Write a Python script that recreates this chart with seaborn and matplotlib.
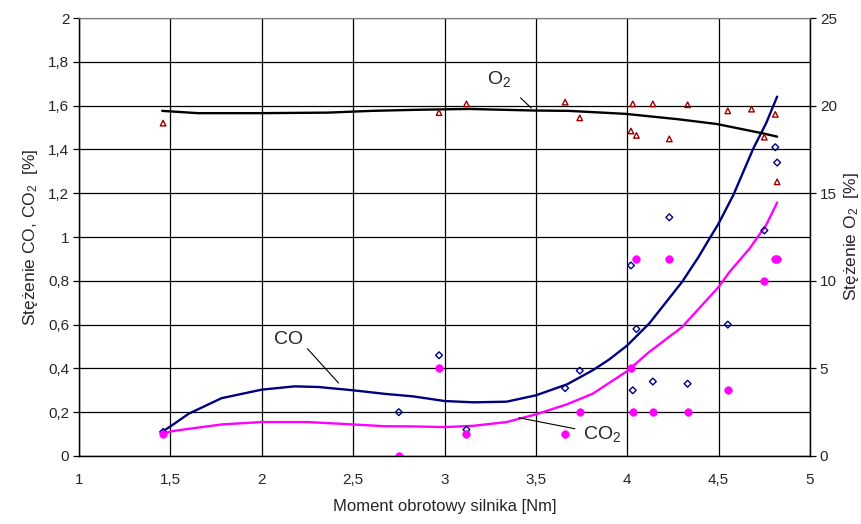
import numpy as np
import pandas as pd
import seaborn as sns
import matplotlib
matplotlib.use('Agg')
import matplotlib.pyplot as plt
from matplotlib.ticker import FuncFormatter, MultipleLocator

co_x = [1.46, 2.75, 2.97, 3.12, 3.66, 3.74, 4.02, 4.03, 4.05, 4.14, 4.23, 4.33, 4.55, 4.75, 4.81, 4.82]
co_y = [0.11, 0.20, 0.46, 0.12, 0.31, 0.39, 0.87, 0.30, 0.58, 0.34, 1.09, 0.33, 0.60, 1.03, 1.41, 1.34]

co2_x = [1.46, 2.75, 2.97, 3.12, 3.66, 3.74, 4.02, 4.03, 4.05, 4.14, 4.23, 4.33, 4.55, 4.75, 4.81, 4.82]
co2_y = [0.10, 0.00, 0.40, 0.10, 0.10, 0.20, 0.40, 0.20, 0.90, 0.20, 0.90, 0.20, 0.30, 0.80, 0.90, 0.90]

o2_x = [1.46, 2.97, 3.12, 3.66, 3.74, 4.02, 4.03, 4.05, 4.14, 4.23, 4.33, 4.55, 4.68, 4.75, 4.81, 4.82]
o2_y = [19.0, 19.6, 20.1, 20.2, 19.3, 18.55, 20.1, 18.3, 20.1, 18.1, 20.05, 19.7, 19.8, 18.2, 19.5, 15.65]

# trend lines
co_trend_x = [1.455, 1.50, 1.60, 1.78, 2.0, 2.18, 2.31, 2.50, 2.67, 2.83, 3.0, 3.16, 3.34, 3.50,
              3.67, 3.81, 3.90, 4.00, 4.12, 4.30, 4.39, 4.45, 4.50, 4.58, 4.69, 4.76, 4.82]
co_trend_y = [0.111, 0.135, 0.193, 0.264, 0.303, 0.318, 0.315, 0.300, 0.284, 0.272, 0.251, 0.245, 0.248, 0.277,
              0.327, 0.391, 0.440, 0.505, 0.605, 0.795, 0.909, 0.993, 1.062, 1.191, 1.405, 1.520, 1.641]

co2_trend_x = [1.455, 1.50, 1.60, 1.78, 2.0, 2.25, 2.50, 2.67, 2.83, 3.0, 3.16, 3.34, 3.50,
               3.67, 3.81, 3.90, 4.00, 4.12, 4.30, 4.50, 4.56, 4.67, 4.76, 4.82]
co2_trend_y = [0.098, 0.112, 0.124, 0.144, 0.155, 0.155, 0.144, 0.136, 0.135, 0.132, 0.138, 0.155, 0.190,
               0.236, 0.284, 0.333, 0.388, 0.475, 0.589, 0.772, 0.841, 0.948, 1.055, 1.157]

o2_trend_x = [1.455, 1.65, 2.0, 2.36, 2.6, 2.84, 3.13, 3.49, 3.68, 3.99, 4.28, 4.49, 4.74, 4.82]
o2_trend_y = [19.7, 19.57, 19.57, 19.6, 19.7, 19.76, 19.81, 19.72, 19.7, 19.53, 19.22, 18.95, 18.42, 18.23]

x_label = 'Moment obrotowy silnika [Nm]'
y_label_left = 'Stężenie CO, CO$_2$  [%]'
y_label_right = 'Stężenie O$_2$  [%]'

sns.set_style('white')
plt.rcParams['font.family'] = ['Liberation Sans', 'DejaVu Sans']
plt.rcParams['mathtext.default'] = 'regular'

fig = plt.figure(figsize=(8.61, 5.24), dpi=100)
ax = fig.add_axes([0.0918, 0.1298, 0.849, 0.8358])
ax2 = ax.twinx()

sns.lineplot(x=co_trend_x, y=co_trend_y, ax=ax, color='#000080', lw=1.7, sort=False, estimator=None)
sns.lineplot(x=co2_trend_x, y=co2_trend_y, ax=ax, color='#ff00ff', lw=1.7, sort=False, estimator=None)
sns.lineplot(x=o2_trend_x, y=o2_trend_y, ax=ax2, color='black', lw=1.7, sort=False, estimator=None)

sns.scatterplot(x=co_x, y=co_y, ax=ax, marker='D', s=12,
                facecolor='none', edgecolor='#000080', linewidth=1.0, zorder=4)
sns.scatterplot(x=co2_x, y=co2_y, ax=ax, marker='o', s=30,
                color='#ff00ff', edgecolor='#ff00ff', zorder=4)
sns.scatterplot(x=o2_x, y=o2_y, ax=ax2, marker='^', s=16,
                facecolor='none', edgecolor='#990000', linewidth=1.0, zorder=4)

ax.set_xlim(1, 5)
ax.set_ylim(0, 2)
ax2.set_ylim(0, 25)

comma = FuncFormatter(lambda v, p: f'{v:g}'.replace('.', ','))
ax.xaxis.set_major_locator(MultipleLocator(0.5))
ax.yaxis.set_major_locator(MultipleLocator(0.2))
ax.xaxis.set_major_formatter(comma)
ax.yaxis.set_major_formatter(comma)
ax2.yaxis.set_major_locator(MultipleLocator(5))

ax.grid(True, color='black', lw=0.9)
ax.set_axisbelow(True)
for a in (ax, ax2):
    a.tick_params(direction='out', length=4, width=0.9, color='black',
                  labelsize=11, pad=3)
    for side in ('left', 'right', 'bottom'):
        a.spines[side].set_color('black')
        a.spines[side].set_linewidth(0.9)
    a.spines['top'].set_color('#808080')
ax.tick_params(axis='x', pad=8)
ax.tick_params(axis='y', left=True)
ax2.tick_params(axis='y', right=True)

ax.set_xlabel(x_label, fontsize=12, labelpad=9)
ax.set_ylabel(y_label_left, fontsize=12.5, labelpad=6)
ax2.set_ylabel(y_label_right, fontsize=12.5, labelpad=4)

# curve labels with leader lines
ax.text(3.30, 1.72, 'O$_2$', fontsize=14, ha='center', va='center')
ax.annotate('', xy=(3.486, 1.58), xytext=(3.405, 1.644),
            arrowprops=dict(arrowstyle='-', color='black', lw=0.8))
ax.text(2.146, 0.534, 'CO', fontsize=14, ha='center', va='center')
ax.annotate('', xy=(2.43, 0.324), xytext=(2.24, 0.499),
            arrowprops=dict(arrowstyle='-', color='black', lw=0.8))
ax.text(3.863, 0.10, 'CO$_2$', fontsize=14, ha='center', va='center')
ax.annotate('', xy=(3.392, 0.177), xytext=(3.728, 0.122),
            arrowprops=dict(arrowstyle='-', color='black', lw=0.8))

fig.savefig('out.png', dpi=100)
